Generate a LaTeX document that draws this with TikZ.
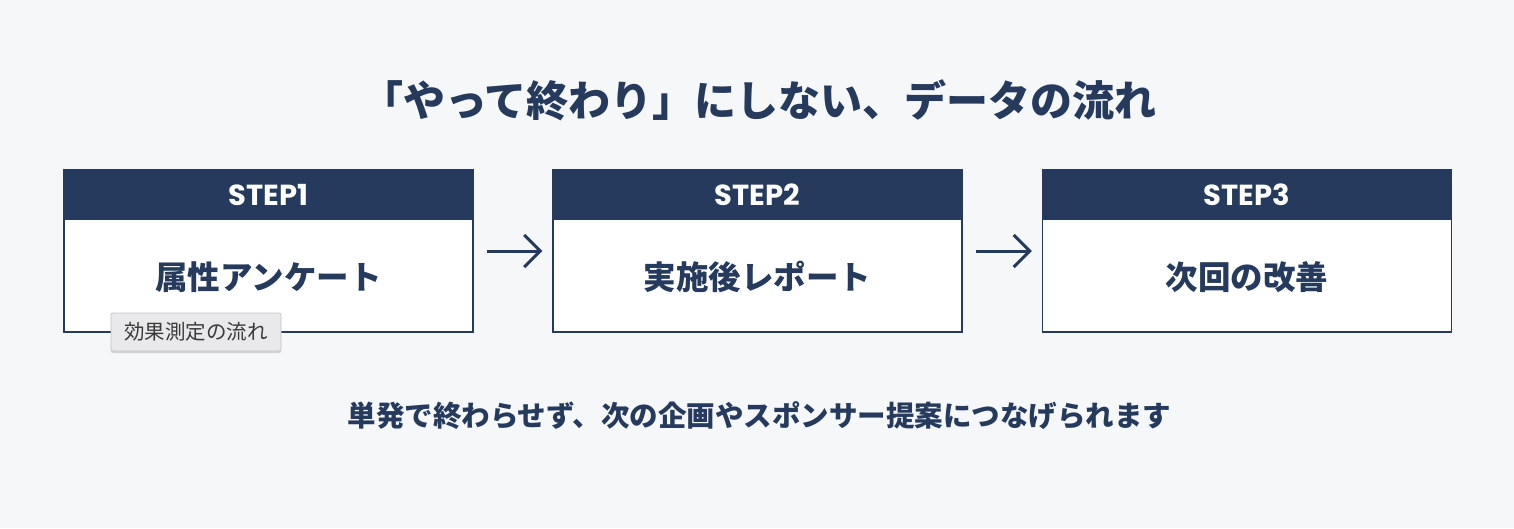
\documentclass[tikz,border=0pt]{standalone}
\usepackage{fontspec}
\setmainfont{Noto Sans CJK JP}
\newfontfamily\stepfont{Poppins}
\usetikzlibrary{arrows.meta,calc,positioning,shadows}
\definecolor{navy}{HTML}{253A5C}
\definecolor{pagebg}{HTML}{F6F7F9}
\definecolor{tipbg}{HTML}{E9E9EB}
\definecolor{tipline}{HTML}{C4C4C6}
\definecolor{tiptext}{HTML}{3A3A3A}
\tikzset{
  stepframe/.style={draw=navy,line width=1.5pt,fill=white,minimum width=409pt,minimum height=162pt,inner sep=0pt},
  stephead/.style={fill=navy,text=white,minimum width=409pt,minimum height=51pt,inner sep=0pt,font=\stepfont\fontsize{29}{29}\selectfont\bfseries},
  steptext/.style={text=navy,font=\fontsize{32.5}{32.5}\selectfont\bfseries},
  flow/.style={draw=navy,line width=3pt,-{Straight Barb[length=16pt,width=32pt]},shorten <=13pt,shorten >=10pt},
  tip/.style={fill=tipbg,draw=tipline,line width=0.8pt,rounded corners=2pt,minimum width=170pt,minimum height=38pt,inner sep=0pt,text=tiptext,
    font=\fontsize{20.5}{20.5}\selectfont,drop shadow={shadow xshift=0pt,shadow yshift=-2pt,opacity=0.3}}
}
\begin{document}
\begin{tikzpicture}[x=1pt,y=-1pt]
\fill[pagebg](0,0)rectangle(1514,528);
\useasboundingbox(0,0)rectangle(1514,528);
%title
\node[text=navy,font=\fontsize{42}{42}\selectfont\bfseries](title)at(759,100){「やって終わり」にしない、データの流れ};
%steps
\foreach \i/\x/\lbl in {1/268.5/属性アンケート,2/757.5/実施後レポート,3/1247/次回の改善}{
\node[stepframe](s\i)at(\x,251){};
\node[stephead,anchor=north](h\i)at(s\i.north){STEP\i};
\node[steptext](t\i)at($(s\i.south)!0.5!(h\i.south)$){\lbl};
}
\draw[flow](s1)--(s2);
\draw[flow](s2)--(s3);
%tooltip
\node[tip](hint)at(196,332){効果測定の流れ};
%note
\node[text=navy,font=\fontsize{28.5}{28.5}\selectfont\bfseries](note)at(759.5,416){単発で終わらせず、次の企画やスポンサー提案につなげられます};
\end{tikzpicture}
\end{document}
